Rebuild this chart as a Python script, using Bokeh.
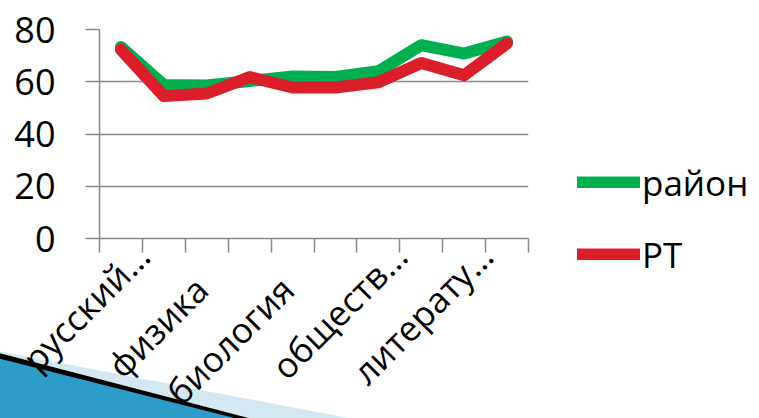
import math
from bokeh.plotting import figure
from bokeh.models import (Range1d, FixedTicker, Legend, LegendItem, Label)
from bokeh.embed import file_html
from bokeh.resources import INLINE

# ---- data ----
categories = ["русский язык", "математика", "физика", "химия", "биология",
              "география", "обществознание", "история", "литература", "английский язык"]
tick_labels = ["русский…", "", "физика", "", "биология", "", "обществ…", "", "литерату…", ""]
series_names = ["район", "РТ"]
raion = [73.3, 58.8, 58.6, 60.3, 62.0, 61.8, 64.0, 74.0, 70.8, 75.4]
rt = [72.3, 54.5, 55.5, 61.8, 57.8, 57.8, 59.8, 67.2, 62.5, 74.7]
y_ticks = [0, 20, 40, 60, 80]

FONT = "Open Sans"
GRAY = "#8A8A8A"
GREEN = "#00B050"
RED = "#DA1F2B"

# ---- layout ----
W, H = 759, 418
FL, FT, FW, FH = 99, 29, 429, 209
N = len(categories)
xs = [i + 1 for i in range(N)]

p = figure(width=W, height=H, frame_width=FW, frame_height=FH,
           min_border_left=FL, min_border_top=FT, min_border_bottom=H - FT - FH,
           min_border_right=W - FL - FW,
           x_range=Range1d(0.5, N + 0.5), y_range=Range1d(0, 80),
           output_backend="svg", toolbar_location=None)
p.outline_line_color = None
p.border_fill_color = "white"
p.background_fill_color = "white"

r1 = p.line(xs, raion, line_color=GREEN, line_width=12, line_cap="round", line_join="round")
r2 = p.line(xs, rt, line_color=RED, line_width=12, line_cap="round", line_join="round")

# y axis
yax = p.yaxis[0]
yax.ticker = FixedTicker(ticks=y_ticks)
yax.major_tick_out = 14
yax.major_tick_in = 0
yax.minor_tick_out = 0
yax.minor_tick_in = 0
yax.major_tick_line_color = GRAY
yax.major_tick_line_width = 1.5
yax.axis_line_color = GRAY
yax.axis_line_width = 1.5
yax.major_label_text_font = FONT
yax.major_label_text_font_size = "36px"
yax.major_label_text_color = "black"
yax.major_label_standoff = 30

# x axis: tick marks at category boundaries, labels drawn separately
xax = p.xaxis[0]
xax.ticker = FixedTicker(ticks=xs, minor_ticks=[i + 0.5 for i in range(N + 1)])
xax.major_label_overrides = {x: "" for x in xs}
xax.major_label_text_font_size = "1px"
xax.major_tick_out = 0
xax.major_tick_in = 0
xax.minor_tick_out = 14
xax.minor_tick_in = 0
xax.minor_tick_line_color = GRAY
xax.minor_tick_line_width = 1.5
xax.axis_line_color = GRAY
xax.axis_line_width = 1.5

# decoration (slide corner): rotated filled label boxes in the bottom panel
def px2x(px):
    return 0.5 + (px - FL) * N / FW

def py2y(py):
    return (FT + FH - py) * 80.0 / FH

def wedge(y0, x1, color):
    ang = -math.atan2(H - y0, x1)
    p.add_layout(Label(x=px2x(x1), y=py2y(H), text="M" * 12, angle=ang,
                       text_align="right", text_baseline="top",
                       text_font=FONT, text_font_size="60px", text_color=color,
                       background_fill_color=color, background_fill_alpha=1,
                       border_line_color=None), "below")

wedge(351, 350, "#D4E8F1")
wedge(353, 250, "#000000")
wedge(358.5, 236, "#2E9CC8")

for i, lab in enumerate(tick_labels):
    if not lab:
        continue
    trunc = lab.endswith("…")
    p.add_layout(Label(x=xs[i], y=0, text=lab, angle=math.pi / 4,
                       text_align="right", text_baseline="alphabetic",
                       x_offset=22 if trunc else -5.5, y_offset=-11 if trunc else -44.5,
                       text_font=FONT, text_font_size="35px", text_color="black"), "below")

p.xgrid.grid_line_color = None
p.ygrid.ticker = FixedTicker(ticks=y_ticks)
p.ygrid.grid_line_color = GRAY
p.ygrid.grid_line_width = 1.5

legend = Legend(items=[LegendItem(label=series_names[0], renderers=[r1]),
                       LegendItem(label=series_names[1], renderers=[r2])],
                location=(49, -41), orientation="vertical",
                glyph_width=63, glyph_height=12, label_height=50, label_standoff=2,
                spacing=22, padding=0, margin=0,
                label_text_font=FONT, label_text_font_size="35px", label_text_color="black",
                border_line_color=None, background_fill_alpha=0)
p.add_layout(legend, "right")

open("out.html", "w").write(file_html(p, INLINE))
